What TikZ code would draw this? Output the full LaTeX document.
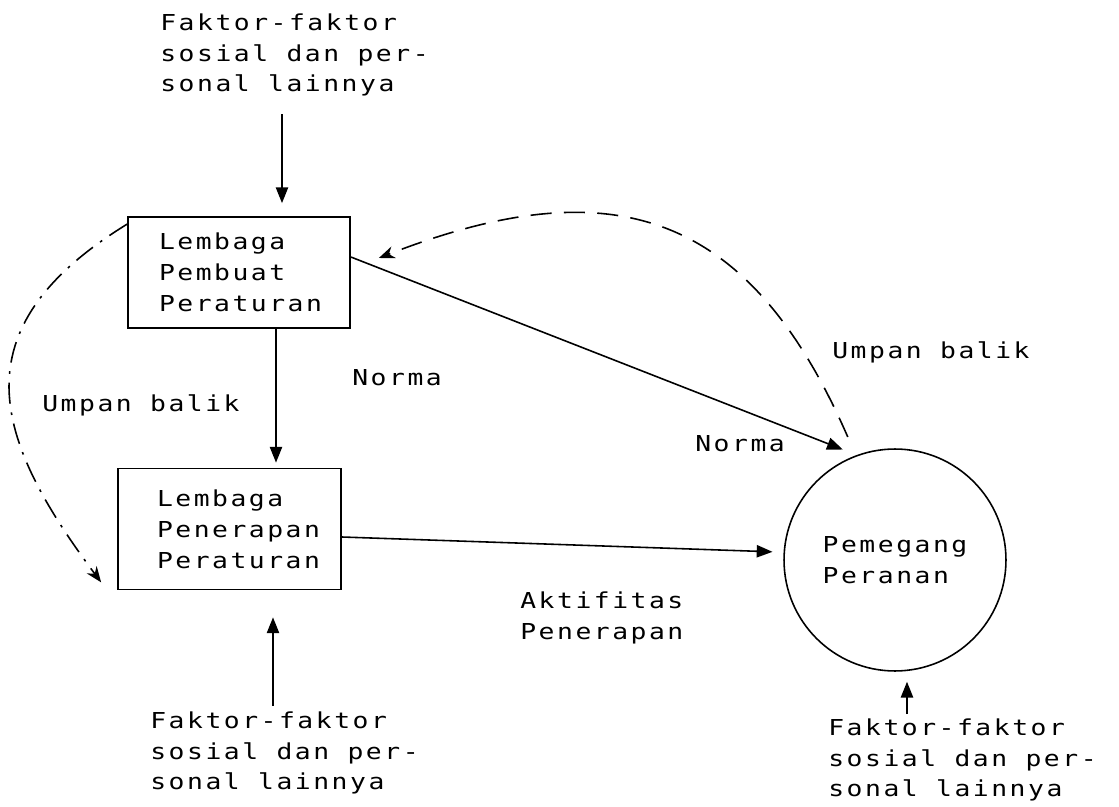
\documentclass[tikz,border=0pt]{standalone}
\usepackage{fontspec}
\newfontfamily\dotfont[FakeStretch=1.2,LetterSpace=11.5]{DejaVu Sans Mono}
\usetikzlibrary{arrows.meta}

\tikzset{
  teks/.style={font=\dotfont\fontsize{12.5}{17.6}\selectfont, align=left, inner sep=0pt, anchor=west},
  kotak/.style={draw, line width=1pt, font=\dotfont\fontsize{12.5}{17.6}\selectfont, align=left, inner ysep=0pt},
  panah/.style={-{Triangle[length=9pt,width=7pt]}, line width=0.9pt},
  balik/.style={-{Stealth[length=9pt,width=7pt]}, line width=0.9pt, dash pattern=on 12pt off 7pt}
}

\begin{document}
\begin{tikzpicture}[x=0.02cm,y=-0.02cm]
\useasboundingbox (0,0) rectangle (1119,807);
\node[teks] (faktoratas) at (160,55) {Faktor-faktor\\sosial dan per-\\sonal lainnya};
\node[kotak, minimum width=4.44cm, minimum height=2.22cm, inner xsep=0.62cm, text width=3.2cm] (pembuat) at (239,272.5) {Lembaga\\Pembuat\\Peraturan};
\node[kotak, minimum width=4.46cm, minimum height=2.42cm, inner xsep=0.78cm, text width=2.9cm] (penerapan) at (229.5,529) {Lembaga\\Penerapan\\Peraturan};
\node[draw, circle, line width=0.9pt, minimum size=4.44cm, inner sep=0pt, font=\dotfont\fontsize{12.5}{17.6}\selectfont, align=left] (pemegang) at (895,560) {Pemegang\\Peranan};
\node[teks] (norma1) at (352,378) {Norma};
\node[teks] (norma2) at (695,444) {Norma};
\node[teks] (umpankanan) at (832,352) {Umpan balik};
\node[teks] (umpankiri) at (42,405) {Umpan balik};
\node[teks] (aktifitas) at (520,618) {Aktifitas\\Penerapan};
\node[teks] (faktorkiri) at (150,753) {Faktor-faktor\\sosial dan per-\\sonal lainnya};
\node[teks] (faktorkanan) at (828,760) {Faktor-faktor\\sosial dan per-\\sonal lainnya};
\coordinate (atasx) at (282,0);
\coordinate (tengahx) at (276,0);
\coordinate (kirix) at (273,0);
\coordinate (kananx) at (907,0);
\draw[panah, shorten <=0.35cm, shorten >=0.26cm] (faktoratas.south -| atasx) -- (pembuat.north -| atasx);
\draw[panah, shorten >=0.1cm] (pembuat.south -| tengahx) -- (penerapan.north -| tengahx);
\draw[panah, shorten <=0.11cm, shorten >=0.54cm] (faktorkiri.north -| kirix) -- (penerapan.south -| kirix);
\draw[panah, shorten <=0.08cm, shorten >=0.2cm] (faktorkanan.north -| kananx) -- (pemegang.south -| kananx);
\draw[panah, shorten >=0.3cm] ([yshift=0.31cm]pembuat.east) -- (pemegang.110);
\draw[panah, shorten >=0.22cm] ([yshift=-0.16cm]penerapan.east) -- (pemegang.176);
\draw[balik, dash pattern=on 12pt off 5pt on 1.5pt off 5pt] ([yshift=-0.16cm]pembuat.north west) .. controls (-45,330) and (-5,440) .. ([xshift=-0.32cm,yshift=0.16cm]penerapan.south west);
\draw[balik] ([xshift=-0.18cm,yshift=0.36cm]pemegang.110) .. controls (748,208) and (610,168) .. ([xshift=0.56cm,yshift=0.29cm]pembuat.east);
\end{tikzpicture}
\end{document}
